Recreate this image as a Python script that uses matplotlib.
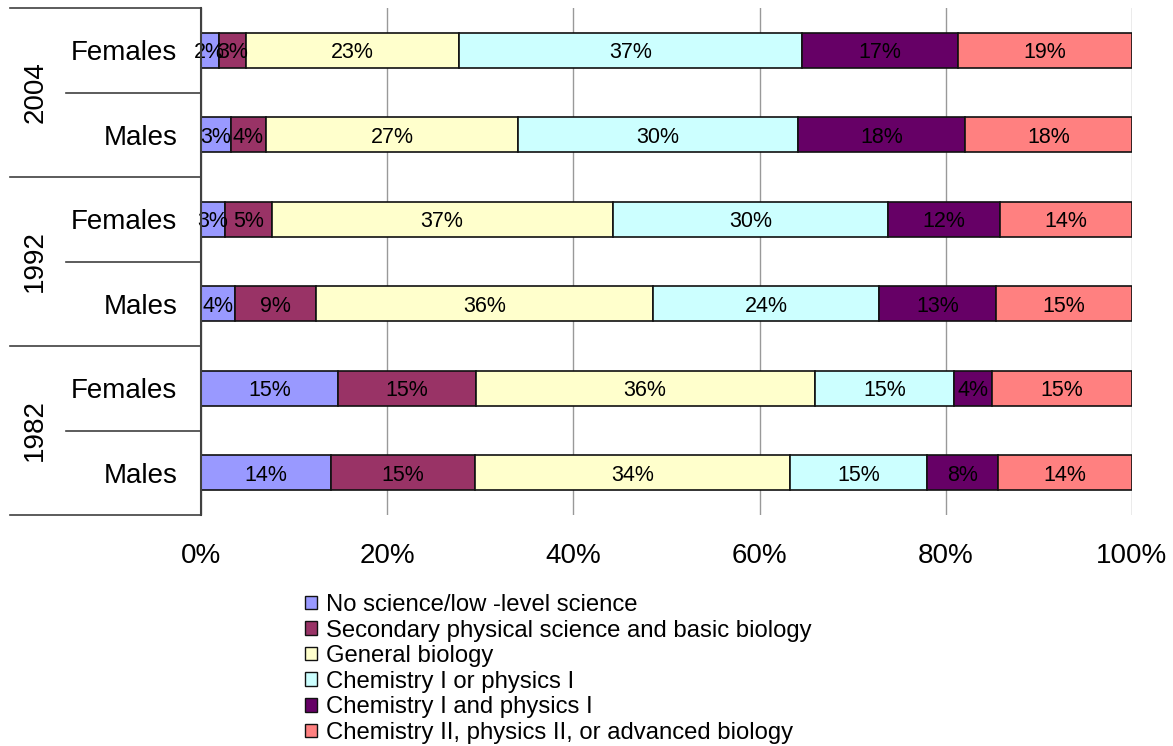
import numpy as np
import matplotlib
matplotlib.use("Agg")
import matplotlib.pyplot as plt
from matplotlib.patches import Patch
import matplotlib.transforms as mtransforms

plt.rcParams['font.family'] = ['Liberation Sans', 'DejaVu Sans']

# rows from bottom to top
years = ['1982', '1992', '2004']
sexes = ['Males', 'Females']
row_labels = ['Males', 'Females', 'Males', 'Females', 'Males', 'Females']

categories = ['No science/low -level science',
              'Secondary physical science and basic biology',
              'General biology',
              'Chemistry I or physics I',
              'Chemistry I and physics I',
              'Chemistry II, physics II, or advanced biology']
colors = ['#9999FF', '#993366', '#FFFFCC', '#CCFFFF', '#660066', '#FF8080']

# percent per category, rows: M1982, F1982, M1992, F1992, M2004, F2004
no_science = [14.0, 14.7, 3.6, 2.6, 3.2, 1.9]
secondary = [15.4, 14.8, 8.8, 5.0, 3.8, 2.9]
general_bio = [33.9, 36.4, 36.2, 36.6, 27.1, 22.9]
chem_or_phys = [14.7, 15.0, 24.2, 29.6, 30.0, 36.9]
chem_and_phys = [7.6, 4.1, 12.6, 12.0, 18.0, 16.7]
advanced = [14.4, 15.0, 14.6, 14.2, 17.9, 18.7]
series = [no_science, secondary, general_bio, chem_or_phys, chem_and_phys, advanced]

fig = plt.figure(figsize=(11.73, 7.46), dpi=100)
ax = fig.add_axes([201/1173, 1-515/746, 931/1173, 507/746])

y = np.arange(len(row_labels))
left = np.zeros(len(row_labels))
for vals, col in zip(series, colors):
    vals = np.array(vals)
    ax.barh(y, vals, left=left, height=0.41, color=col, edgecolor='#111111', linewidth=1.2, zorder=3)
    for yi, l, v in zip(y, left, vals):
        ax.text(l + v/2, yi, f"{v:.0f}%", ha='center', va='center_baseline', fontsize=15.5, color='black', zorder=4)
    left += vals

ax.set_xlim(0, 100)
ax.set_ylim(-0.5, 5.5)
ax.set_xticks(np.arange(0, 101, 20))
ax.set_xticklabels([f"{t}%" for t in range(0, 101, 20)], fontsize=20)
ax.set_yticks(y)
ax.set_yticklabels(row_labels, fontsize=20)
ax.tick_params(axis='x', length=0, pad=20)
ax.tick_params(axis='y', length=0, pad=17)
ax.grid(axis='x', color='#999999', linewidth=1, zorder=0)
for s in ['top', 'right', 'bottom']:
    ax.spines[s].set_visible(False)
ax.spines['left'].set_color('#404040')
ax.spines['left'].set_linewidth(1.5)
ax.spines['left'].set_zorder(5)

# group separators and year labels
tr = mtransforms.blended_transform_factory(ax.transAxes, ax.transData)
for yy in [-0.5, 1.5, 3.5, 5.5]:
    ax.plot([-0.205, 0], [yy, yy], color='#404040', lw=1.2, transform=tr, clip_on=False)
for yy in [0.5, 2.5, 4.5]:
    ax.plot([-0.145, 0], [yy, yy], color='#404040', lw=1.2, transform=tr, clip_on=False)
for i, yr in enumerate(years):
    ax.text(-0.178, 2*i + 0.5, yr, rotation=90, ha='center', va='center', fontsize=20, transform=tr)

handles = [Patch(facecolor=c, edgecolor='#111111', linewidth=1) for c in colors]
fig.legend(handles, categories, loc='upper left', bbox_to_anchor=(305/1173, 1-594/746),
           frameon=False, fontsize=17.2, handlelength=0.5, handleheight=0.5,
           handletextpad=0.4, labelspacing=0.15, borderpad=0, borderaxespad=0)

fig.savefig('out.png', dpi=100)
